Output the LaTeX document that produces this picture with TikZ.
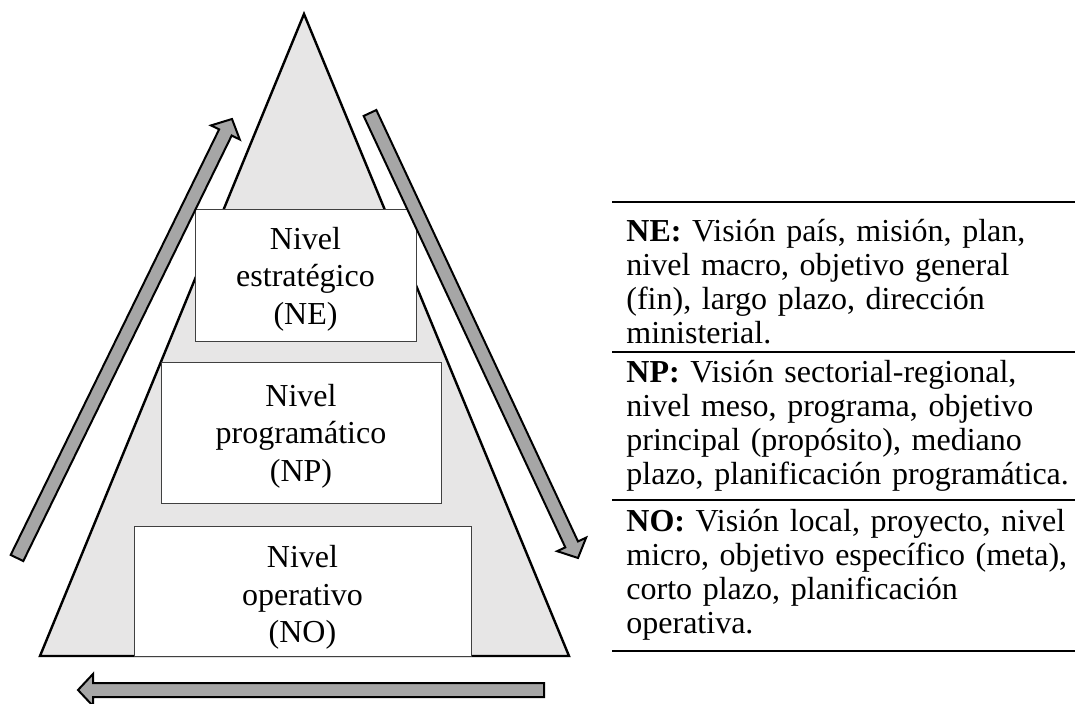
\documentclass[tikz,border=0pt]{standalone}
\usepackage{fontspec}
\setmainfont{Liberation Serif}
\usepackage{tikz}
\usetikzlibrary{calc}
\definecolor{pyrfill}{HTML}{E7E6E6}
\definecolor{arrfill}{HTML}{A6A6A6}
\definecolor{boxline}{HTML}{404040}

\begin{document}
\begin{tikzpicture}[x=0.5pt,y=-0.5pt,
	level/.style={draw=boxline,line width=0.5pt,fill=white,inner sep=0pt},
	lvltext/.style={anchor=base,inner sep=0pt,text width=100pt,align=center,font=\fontsize{16pt}{18.75pt}\selectfont},
	fatarrow/.style={draw=black,line width=1pt,fill=arrfill,line join=miter},
	desc/.style={anchor=base west,inner sep=0pt,text width=224pt,align=left,font=\fontsize{16pt}{17pt}\selectfont}]
	\useasboundingbox (0,0) rectangle (1075,704);
	% piramide
	\draw[line width=1.2pt,fill=pyrfill] (304,14) -- (569,656) -- (40,656) -- cycle;
	\node[level,minimum width=110.5pt,minimum height=66pt] (ne) at (305.5,276) {};
	\node[level,minimum width=140pt,minimum height=70.5pt] (np) at (301,433.5) {};
	\node[level,minimum width=168.5pt,minimum height=64.5pt] (no) at (302.5,591.5) {};
	\node[lvltext] (ne-lbl) at ($(ne.north)+(0,40)$) {Nivel\\estratégico\\(NE)};
	\node[lvltext] (np-lbl) at ($(np.north)+(0,44)$) {Nivel\\programático\\(NP)};
	\node[lvltext] (no-lbl) at ($(no.north)+(0,41)$) {Nivel\\operativo\\(NO)};
	% flechas
	\coordinate (up1) at (17,558);
	\coordinate (up2) at (232,119);
	\coordinate (dn1) at (370,113);
	\coordinate (dn2) at (578,558);
	\coordinate (bt1) at (544,690);
	\coordinate (bt2) at (78,690);
	\foreach \s/\e in {up1/up2,dn1/dn2,bt1/bt2}
	{ \coordinate (neck) at ($(\e)!7.5pt!(\s)$);
	  \draw[fatarrow] ($(\s)!3.5pt!90:(\e)$) -- ($(neck)!3.5pt!90:(\e)$) -- ($(neck)!8pt!90:(\e)$) -- (\e)
		-- ($(neck)!8pt!-90:(\e)$) -- ($(neck)!3.5pt!-90:(\e)$) -- ($(\s)!3.5pt!-90:(\e)$) -- cycle;
	}
	% tabla
	\foreach \y in {202,352,500,651}
		\draw[line width=1pt] (612,\y) -- (1075,\y);
	\node[desc] (ne-txt) at (626,242) {\textbf{NE:} Visión país, misión, plan,\\nivel macro, objetivo general\\(fin), largo plazo, dirección\\ministerial.};
	\node[desc] (np-txt) at (626,383) {\textbf{NP:} Visión sectorial-regional,\\nivel meso, programa, objetivo\\principal (propósito), mediano\\plazo, planificación programática.};
	\node[desc] (no-txt) at (626,532) {\textbf{NO:} Visión local, proyecto, nivel\\micro, objetivo específico (meta),\\corto plazo, planificación\\operativa.};
\end{tikzpicture}
\end{document}
